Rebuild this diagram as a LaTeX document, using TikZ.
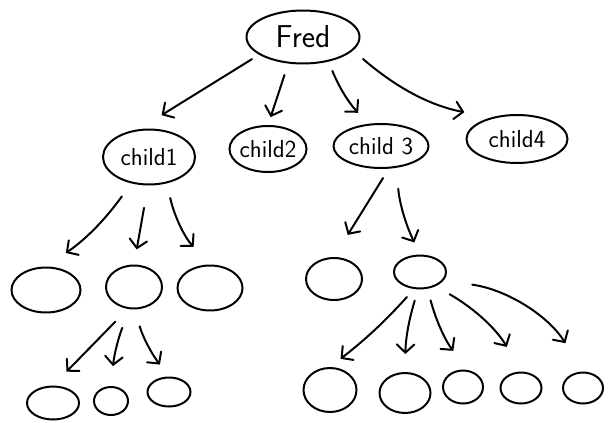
\documentclass[tikz,border=0pt]{standalone}
\usetikzlibrary{shapes.geometric, arrows.meta}

\tikzset{
  blob/.style={draw, ellipse, line width=1.7pt, inner sep=0pt, inner xsep=-6pt},
  sz/.style n args={2}{minimum width=#1*0.03cm, minimum height=#2*0.03cm},
  lbl/.style={font=\sffamily\fontsize{21}{23}\selectfont},
  arr/.style={line width=1.7pt, line cap=round, line join=round,
    -{Straight Barb[length=7pt,width=15pt,line cap=round]}},
}

\begin{document}
\begin{tikzpicture}[x=0.03cm, y=-0.03cm]
\useasboundingbox (0,0) rectangle (616,423);

% root
\node[blob, sz={113}{53}, font=\sffamily\fontsize{27}{30}\selectfont] (fred) at (303,37) {Fred};

% children
\node[blob, lbl, sz={92}{55}] (child1) at (149,157) {child1};
\node[blob, lbl, sz={77}{46}] (child2) at (268,149) {child2};
\node[blob, lbl, sz={95}{44}] (child3) at (381,146) {child 3};
\node[blob, lbl, sz={101}{48}] (child4) at (517,139) {child4};

% grandchildren
\node[blob, sz={69}{45}] (g1) at (46,290) {};
\node[blob, sz={56}{43}] (g2) at (134,287) {};
\node[blob, sz={65}{45}] (g3) at (210,288) {};
\node[blob, sz={56}{42}] (g4) at (334,279) {};
\node[blob, sz={52}{33}] (g5) at (420,272) {};

% bottom row
\node[blob, sz={52}{33}] (h1) at (53,403) {};
\node[blob, sz={34}{28}] (h2) at (111,401) {};
\node[blob, sz={43}{29}] (h3) at (169,392) {};
\node[blob, sz={53}{44}] (k1) at (330,390) {};
\node[blob, sz={51}{40}] (k2) at (405,393) {};
\node[blob, sz={40}{33}] (k3) at (463,387) {};
\node[blob, sz={41}{31}] (k4) at (521,388) {};
\node[blob, sz={40}{31}] (k5) at (583,388) {};

% fred
\draw[arr, shorten <=0.25cm, shorten >=0.8cm] (fred.202) to (child1.110);
\draw[arr, shorten <=0.36cm, shorten >=0.25cm] (fred.241) to (child2.north);
\draw[arr, shorten <=0.3cm, shorten >=0.45cm] (fred.316) to[bend right=10] (child3.120);
\draw[arr, shorten <=0.39cm, shorten >=0.82cm] (fred.345) to[bend right=15] (child4.140);

% child1
\draw[arr, shorten <=0.48cm, shorten >=0.72cm] (child1.236) to[bend left=10] (g1.north);
\draw[arr, shorten <=0.68cm, shorten >=0.46cm] (child1.268) to (g2.north);
\draw[arr, shorten <=0.45cm, shorten >=0.72cm] (child1.304) to[bend right=15] (g3.north);

% child 3
\draw[arr, shorten <=0.33cm, shorten >=0.78cm] (child3.289) to (g4.north);
\draw[arr, shorten <=0.63cm, shorten >=0.4cm] (child3.305) to[bend right=10] (g5.north);

% g2
\draw[arr, shorten <=0.53cm, shorten >=0.58cm] (g2.254) to (h1.north);
\draw[arr, shorten <=0.6cm, shorten >=0.6cm] (g2.259) to[bend right=8] (h2.north);
\draw[arr, shorten <=0.53cm, shorten >=0.45cm] (g2.271) to[bend right=10] (h3.north);

% g5
\draw[arr, shorten <=0.32cm, shorten >=0.4cm] (g5.251) to[bend left=5] (k1.north);
\draw[arr, shorten <=0.35cm, shorten >=0.54cm] (g5.264) to[bend right=8] (k2.north);
\draw[arr, shorten <=0.36cm, shorten >=0.75cm] (g5.294) to[bend right=12] (k3.70);
\draw[arr, shorten <=0.48cm, shorten >=0.85cm] (g5.318) to[bend left=15] (k4.north);
\draw[arr, shorten <=0.87cm, shorten >=1cm] (g5.340) to[bend left=25] (k5.north);
\end{tikzpicture}
\end{document}
